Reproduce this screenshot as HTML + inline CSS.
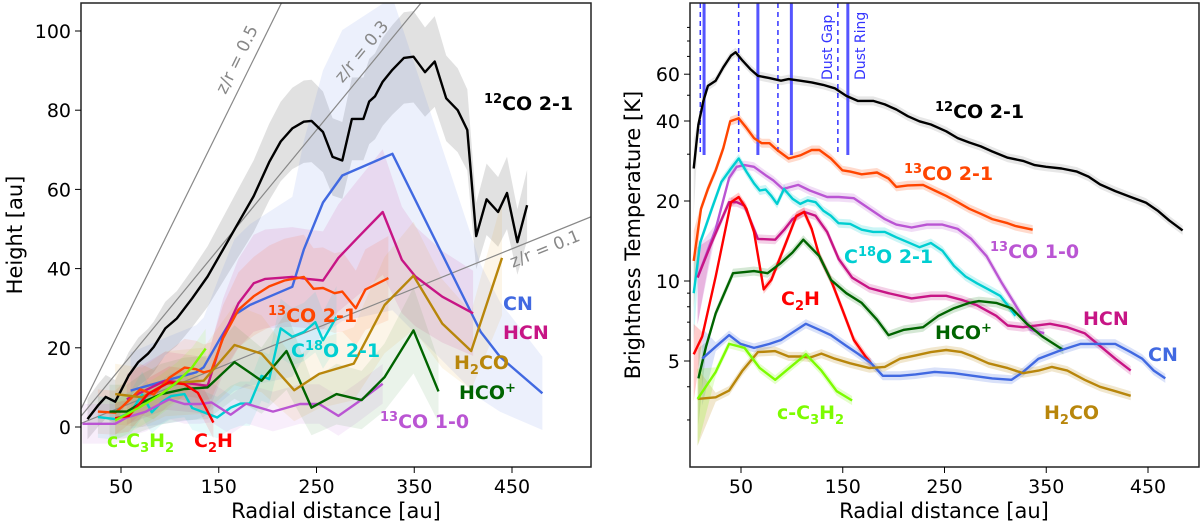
<!DOCTYPE html>
<html><head><meta charset="utf-8"><style>
html,body{margin:0;padding:0;background:#fff;}
svg{display:block;font-family:"DejaVu Sans","Liberation Sans",sans-serif;}
.tk{font-size:19px;fill:#000;}
.at{font-size:21px;fill:#000;}
.lb{font-size:19px;font-weight:bold;}
.sup{font-size:13px;}
</style></head><body>
<svg id="chart" width="1200" height="525" viewBox="0 0 1200 525">
<defs>
<clipPath id="clipL"><rect x="81" y="3" width="510" height="464"/></clipPath>
<clipPath id="clipR"><rect x="690" y="3" width="509" height="464"/></clipPath>
</defs>
<g id="left"></g>
<g id="right"></g>
</svg>
<script>
// ---------- LEFT PANEL DATA (Radial distance [au], Height [au]) ----------
const co12_r=[15.7,26.4,34.3,44.1,50,57.9,67.7,77.6,83.5,95.3,107.1,122.8,138.6,154.3,170.1,185.8,201.6,213.4,225.2,237,244.9,256.7,266.5,276.4,286.2,298,303.9,309.8,317.7,327.6,339.4,349.2,361,370.9,382.7,394.5,404.3,413.4,424,435.8,444.9,455.5,465.4];
const co12_h=[2.0,5.4,7.6,6.4,9.2,13.0,16.4,18.5,20.2,24.9,27.4,32.5,38.0,44.8,51.6,58.3,66.9,72.1,75.4,77.1,77.3,74.5,68.2,67.3,77.8,77.8,82.2,83.5,87.2,90.2,93.2,93.5,89.6,92.3,83.0,80.0,75.0,48.2,57.5,54.3,59.1,46.7,56.0];
const cn_r=[59.8,95.3,126.8,134.6,150.4,166.1,181.9,201.6,225.2,237,256.7,276.4,327.6,418.1,437.8,481.1];
const cn_h=[9.2,11.7,13.8,15.1,21.9,28.3,30.8,32.9,35.4,44.8,56.7,63.5,69.0,24.0,17.7,8.5];
const hcn_r=[55.9,95.3,122.8,138.6,154.3,170.1,185.8,197.6,225.2,240.9,256.7,272.4,292.1,317.7,337.4,351.2,378.7,410.2];
const hcn_h=[7.0,11.7,10.9,10.4,22.8,31.2,36.3,37.4,37.9,37.4,37.0,42.7,47.8,54.3,42.2,38.0,32.9,28.7];
const co13a_r=[26.4,44.1,52,69.7,83.5,99.2,115,126.8,134.6,142.5,154.3,170.1,185.8,201.6,217.3,237,246.9,256.7,268.5,276.4,290.2,300,323.6];
const co13a_h=[3.9,3.6,5.3,9.5,8.2,12.4,15.0,14.6,13.8,14.3,22.4,29.6,33.0,35.5,37.0,37.9,34.9,35.1,33.8,34.2,30.0,34.7,37.6];
const c18o_r=[26.4,44.1,59.8,71.7,81.5,91.3,101.2,115,122.8,134.6,148.4,162.2,172,181.9,193.7,201.6,213.4,225.2,237,248.8,256.7,270.5];
const c18o_h=[2.5,2.0,3.7,8.2,3.7,6.2,7.8,8.3,4.8,3.7,2.4,4.9,5.9,5.9,12.9,12.1,24.9,22.8,24.0,26.5,21.9,27.8];
const co13b_r=[10.6,44.1,55.9,75.6,99.2,115,130.7,142.5,162.2,178,205.5,233.1,252.8,272.4,292.1,317.7];
const co13b_h=[0.8,0.8,2.4,3.9,7.0,5.8,5.8,6.2,3.1,5.9,3.9,5.8,5.8,2.8,6.2,10.9];
const hco_r=[38.2,55.9,71.7,91.3,115,138.6,166.1,193.7,219.3,244.9,270.5,296.1,319.7,349.2,374.8];
const hco_h=[3.9,3.9,6.2,8.3,9.6,10.0,16.4,11.7,19.2,4.9,8.3,6.8,12.6,24.4,9.0];
const h2co_r=[44.1,71.7,95.3,115,134.6,166.1,193.7,227.2,252.8,288.2,319.7,349.2,378.7,408.3,439.8];
const h2co_h=[8.3,7.5,10.9,11.3,11.7,20.7,18.5,9.3,13.4,16.0,30.8,38.2,26.1,19.2,42.7];
const c2h_r=[44.1,57.9,77.6,99.2,115,128.7,144.5];
const c2h_h=[2.2,2.8,8.3,11.3,10.8,8.6,1.1];
const c3h2_r=[44.1,67.7,91.3,107.1,122.8,136.6];
const c3h2_h=[1.7,4.8,8.3,11.3,15.1,19.8];
const xTicksL=[50,150,250,350,450];
const yTicksL=[0,20,40,60,80,100];
const zrRatios=[0.5,0.3,0.1];

// ---------- RIGHT PANEL DATA (Radial distance [au], Brightness Temperature [K]) ----------
const t12_r=[3.5,8.1,13.0,17.5,25.1,32.6,40.2,44.7,51.5,59.1,66.6,78,89.3,96.8,108.2,119.5,130.8,142.2,153.5,164.8,179.9,191.3,202.6,213.9,225.3,236.6,251.7,263,274.4,285.7,297,312.1,327.2,338.6,349.9,365,380.1,391.5,402.8,417.9,433,448.1,459.4,470.8,484];
const t12_T=[26.5,38.8,47.6,54.2,56.7,63.7,70.5,72.6,67.5,62.7,59.2,58.0,56.7,57.5,56.7,55.9,54.7,53.1,49.7,47.6,47.6,46.2,44.2,41.7,39.9,38.8,36.6,34.5,33.2,32.1,30.7,29.1,28.3,27.3,26.9,26.5,25.8,24.7,23.1,21.8,20.7,19.7,18.4,16.9,15.5];
const t13a_r=[3.5,10.7,17.5,25.1,32.6,39.4,47.7,55.3,62.8,70.4,78,85.5,96.8,108.2,119.5,127.1,138.4,149.7,157.3,168.6,183.7,195,202.6,213.9,229,240.4,251.7,263,274.4,285.7,297,312.1,319.7,336.7];
const t13a_T=[11.9,18.7,22.2,26.1,31.6,39.9,41.0,37.7,34.5,33.0,33.0,31.1,28.9,29.7,31.1,31.1,28.9,26.1,25.8,25.2,25.6,24.3,22.6,22.9,23.0,21.9,20.9,19.8,18.7,17.9,17.1,16.5,16.1,15.6];
const t13b_r=[7.3,25.1,38.3,45.8,53.4,62.8,74.2,81.7,91.2,106.3,117.6,134.6,146,161,176.2,191.3,202.6,217.7,232.8,247.9,263,276.2,291.4,306.5,321.6,334.8,348];
const t13b_T=[10.3,15.7,24.4,26.9,27.3,26.9,25.0,23.9,22.2,23.0,21.9,20.7,20.7,20.5,18.7,17.1,16.3,15.9,16.3,16.3,15.7,14.4,12.4,9.8,7.9,6.55,6.36];
const tc18_r=[3.5,10,21.3,30.7,40.2,47.7,55.3,62.8,68.5,74.2,79.8,85.5,92.3,100.6,108.2,115.7,123.3,130.8,138.4,145.9,157.3,168.6,179.9,191.3,202.6,213.9,225.3,236.6,247.9,259.3,270.6,281.9,293.2,304.6,312.1,319.7];
const tc18_T=[9.0,14.0,18.7,23.6,26.5,28.9,25.8,23.3,21.9,22.1,20.9,19.5,22.2,20.4,19.5,20.1,19.8,18.4,17.6,16.5,16.4,15.6,15.3,15.3,14.6,14.0,13.4,13.9,13.0,11.4,10.4,9.8,9.3,8.8,8.1,7.4];
const thcn_r=[7.3,21.3,38.3,45.8,53.4,66.6,83.6,93.1,100.6,112,123.3,134.6,146,159.2,176.2,195,217.7,236.6,251.7,266.8,281.9,300.8,312.1,327.2,353.7,370.7,387.7,402.8,417.9,433];
const thcn_T=[10.3,14.0,19.8,19.8,19.2,14.4,14.3,15.7,17.1,18.2,17.6,15.3,12.1,10.3,9.4,9.0,8.6,8.8,8.8,8.5,8.1,7.4,6.8,6.7,6.9,6.7,6.36,5.7,5.1,4.6];
const tc2h_r=[3.5,11.9,25.1,40.2,47.7,55.3,62.8,72.3,79.8,93.1,104.4,112,119.5,127.1,138.4,149.7,161,172.4,178];
const tc2h_T=[5.3,6.18,10.4,19.8,20.7,18.7,15.3,9.3,10.1,13.6,17.6,18.2,15.7,12.4,10.1,7.8,6.0,5.2,4.9];
const thco_r=[8.1,15.6,25.1,42.1,53.4,62.8,76.1,89.3,100.6,111.2,127.1,138.4,153.5,168.6,183.7,195,210.2,229,244.1,259.3,274.4,283.8,300.8,315.9,331,346.1,366.9];
const thco_T=[4.3,5.66,7.56,10.7,10.8,10.9,10.7,11.7,12.8,14.3,12.4,10.1,9.0,8.27,7.15,6.25,6.55,6.7,7.4,7.9,8.27,8.4,8.27,7.9,6.9,6.18,5.5];
const tcn_r=[11.9,25.1,38.3,49.6,62.8,78,89.3,100.6,113.8,127.1,138.4,153.5,164.8,178,189.4,206.4,221.5,240.4,259.3,278.1,297,315.9,327.2,342.4,365,383.9,406.6,417.9,433,444.3,455.7,467];
const tcn_T=[5.1,5.66,6.26,5.8,5.6,5.8,6.0,6.4,6.9,6.55,6.26,5.7,5.33,4.9,4.4,4.4,4.45,4.55,4.5,4.4,4.3,4.25,4.55,5.1,5.5,5.8,5.8,5.8,5.4,5.1,4.6,4.3];
const th2co_r=[7.3,25.1,38.3,51.5,66.6,83.6,96.8,108.2,117.6,129,142.2,157.3,176.2,191.3,206.4,221.5,236.6,251.7,266.8,278.1,293.2,312.1,327.2,342.4,355.6,370.7,387.7,402.8,417.9,433];
const th2co_T=[3.6,3.65,3.87,4.6,5.4,5.45,5.2,5.2,5.15,5.33,5.1,4.9,4.7,4.75,5.1,5.25,5.4,5.5,5.4,5.2,4.9,4.7,4.5,4.6,4.75,4.6,4.25,4.0,3.85,3.7];
const tc3h2_r=[7.3,25.1,38.3,53.4,68.5,83.6,98.7,113.8,129,144.1,159.2];
const tc3h2_T=[3.6,4.55,5.8,5.6,4.7,4.25,4.75,5.3,4.6,3.85,3.55];
const dustGaps=[10,47.7,86.3,145.2];
const dustRings=[13.7,66.6,99.5,155];
const xTicksR=[50,150,250,350,450];
const yTicksR=[5,10,20,40,60];
const yMinorR=[3,4,6,7,8,9,30,50,70,80,90];

const NS='http://www.w3.org/2000/svg';
function mk(tag,attrs,parent){const e=document.createElementNS(NS,tag);for(const k in attrs)e.setAttribute(k,attrs[k]);parent.appendChild(e);return e;}
const L=document.getElementById('left'), R=document.getElementById('right');
const xL=r=>121+(r-50)*0.9775, yL=h=>427-h*3.96;
const xR=r=>741+(r-50)*1.0175, yR=T=>281-80*Math.log2(T/10);

function linePath(xs,ys,fx,fy){return xs.map((v,i)=>(i?'L':'M')+fx(v).toFixed(1)+','+fy(ys[i]).toFixed(1)).join(' ');}
function bandPath(xs,lo,hi,fx,fy){let d='';xs.forEach((v,i)=>{d+=(i?'L':'M')+fx(v).toFixed(1)+','+fy(hi[i]).toFixed(1);});for(let i=xs.length-1;i>=0;i--)d+='L'+fx(xs[i]).toFixed(1)+','+fy(lo[i]).toFixed(1);return d+'Z';}

const gL=mk('g',{'clip-path':'url(#clipL)'},L);
// [name, r, h, lineColor, errConst, errFrac, bandColor]
const leftSeries=[
 ['co12',co12_r,co12_h,'#000000',5,0.07,'#888'],['cn',cn_r,cn_h,'#4169e1',5,0.5,'#4169e1'],['hcn',hcn_r,hcn_h,'#c71585',5,0.2,'#c71585'],
 ['co13-2-1',co13a_r,co13a_h,'#ff4500',5,0.15,'#ff4500'],['c18o',c18o_r,c18o_h,'#00ced1',5,0.1,'#00ced1'],['co13-1-0',co13b_r,co13b_h,'#ba55d3',5,0,'#ba55d3'],
 ['hcoplus',hco_r,hco_h,'#006400',6,0.2,'#2e8b2e'],['h2co',h2co_r,h2co_h,'#b8860b',6,0.2,'#e0a020'],['c2h',c2h_r,c2h_h,'#ff0000',4,0,'#ff0000'],['c-c3h2',c3h2_r,c3h2_h,'#7cfc00',5,0,'#7cfc00']];
leftSeries.forEach(s=>{
 const lo=s[2].map(v=>v-s[4]-v*s[5]), hi=s[2].map(v=>v+s[4]+v*s[5]);
 const b=mk('path',{d:bandPath(s[1],lo,hi,xL,yL),fill:s[6],'fill-opacity':s[0]==='co12'?0.25:0.1,stroke:'none'},gL);
 
 
});
zrRatios.forEach(z=>{
 const l=mk('line',{x1:xL(0),y1:yL(0),x2:xL(600),y2:yL(600*z),stroke:'#888',"stroke-width":1.2},gL);
 
 
});
leftSeries.forEach(s=>{
 const p=mk('path',{d:linePath(s[1],s[2],xL,yL),fill:'none',stroke:s[3],'stroke-width':2.4,'stroke-linejoin':'round'},gL);
 
 
});
mk('rect',{x:81,y:3,width:510,height:464,fill:'none',stroke:'#222','stroke-width':1.5},L);
xTicksL.forEach(v=>{mk('line',{x1:xL(v),x2:xL(v),y1:467,y2:473,stroke:'#000'},L);const t=mk('text',{x:xL(v),y:493,'text-anchor':'middle',class:'tk'},L);t.textContent=v;});
yTicksL.forEach(v=>{mk('line',{x1:75,x2:81,y1:yL(v),y2:yL(v),stroke:'#000'},L);const t=mk('text',{x:71,y:yL(v)+7,'text-anchor':'end',class:'tk'},L);t.textContent=v;});

const gR=mk('g',{'clip-path':'url(#clipR)'},R);
const rightSeries=[
 ['co12',t12_r,t12_T,'#000000','#888'],['co13-2-1',t13a_r,t13a_T,'#ff4500','#ff4500'],['co13-1-0',t13b_r,t13b_T,'#ba55d3','#ba55d3'],
 ['c18o',tc18_r,tc18_T,'#00ced1','#00ced1'],['hcn',thcn_r,thcn_T,'#c71585','#c71585'],['c2h',tc2h_r,tc2h_T,'#ff0000','#ff0000'],
 ['hcoplus',thco_r,thco_T,'#006400','#2e8b2e'],['cn',tcn_r,tcn_T,'#4169e1','#4169e1'],['h2co',th2co_r,th2co_T,'#b8860b','#b8860b'],['c-c3h2',tc3h2_r,tc3h2_T,'#7cfc00','#7cfc00']];
rightSeries.forEach(s=>{
 const lo=s[2].map((v,i)=>v/(i===0?1.5:1.04)), hi=s[2].map((v,i)=>v*(i===0?1.3:1.04));
 const b=mk('path',{d:bandPath(s[1],lo,hi,xR,yR),fill:s[4],'fill-opacity':0.2,stroke:'none'},gR);
 
 
});
dustGaps.forEach(r=>{const l=mk('line',{x1:xR(r),x2:xR(r),y1:3,y2:155,stroke:'#3333ff','stroke-width':1.5,'stroke-dasharray':'5,4'},gR);});
dustRings.forEach(r=>{const l=mk('line',{x1:xR(r),x2:xR(r),y1:3,y2:155,stroke:'#5555ff','stroke-width':3},gR);});
rightSeries.forEach(s=>{
 const p=mk('path',{d:linePath(s[1],s[2],xR,yR),fill:'none',stroke:s[3],'stroke-width':2.4,'stroke-linejoin':'round'},gR);
 
 
});
mk('rect',{x:690,y:3,width:509,height:464,fill:'none',stroke:'#222','stroke-width':1.5},R);
xTicksR.forEach(v=>{mk('line',{x1:xR(v),x2:xR(v),y1:467,y2:473,stroke:'#000'},R);const t=mk('text',{x:xR(v),y:493,'text-anchor':'middle',class:'tk'},R);t.textContent=v;});
yTicksR.forEach(v=>{mk('line',{x1:684,x2:690,y1:yR(v),y2:yR(v),stroke:'#000'},R);const t=mk('text',{x:680,y:yR(v)+7,'text-anchor':'end',class:'tk'},R);t.textContent=v;});
yMinorR.forEach(v=>{mk('line',{x1:687,x2:690,y1:yR(v),y2:yR(v),stroke:'#000'},R);});
</script>
<div style="position:absolute;left:0;top:0;width:1200px;height:525px;pointer-events:none">
<svg width="1200" height="525" style="position:absolute;left:0;top:0">
 <text x="242" y="62" transform="rotate(-63.7 242 62)" text-anchor="middle" font-size="17" fill="#888">z/r = 0.5</text>
 <text x="366" y="55" transform="rotate(-50.5 366 55)" text-anchor="middle" font-size="17" fill="#888">z/r = 0.3</text>
 <text x="547" y="254" transform="rotate(-22 547 254)" text-anchor="middle" font-size="17" fill="#888">z/r = 0.1</text>
 <text x="484" y="110" class="lb" fill="#000"><tspan class="sup" dy="-7">12</tspan><tspan dy="7">CO 2-1</tspan></text>
 <text x="503" y="310" class="lb" fill="#4169e1">CN</text>
 <text x="503" y="339" class="lb" fill="#c71585">HCN</text>
 <text x="268" y="322" class="lb" fill="#ff4500"><tspan class="sup" dy="-7">13</tspan><tspan dy="7">CO 2-1</tspan></text>
 <text x="291" y="357" class="lb" fill="#00ced1">C<tspan class="sup" dy="-7">18</tspan><tspan dy="7">O 2-1</tspan></text>
 <text x="454" y="369" class="lb" fill="#b8860b">H<tspan class="sup" dy="5">2</tspan><tspan dy="-5">CO</tspan></text>
 <text x="459" y="399" class="lb" fill="#006400">HCO<tspan class="sup" dy="-7">+</tspan></text>
 <text x="380" y="428" class="lb" fill="#ba55d3"><tspan class="sup" dy="-7">13</tspan><tspan dy="7">CO 1-0</tspan></text>
 <text x="107" y="447" class="lb" fill="#7cfc00">c-C<tspan class="sup" dy="5">3</tspan><tspan dy="-5">H</tspan><tspan class="sup" dy="5">2</tspan></text>
 <text x="194" y="447" class="lb" fill="#ff0000">C<tspan class="sup" dy="5">2</tspan><tspan dy="-5">H</tspan></text>
 <text x="22" y="235" transform="rotate(-90 22 235)" text-anchor="middle" class="at">Height [au]</text>
 <text x="336" y="518" text-anchor="middle" class="at">Radial distance [au]</text>
 <text x="832" y="80" transform="rotate(-90 832 80)" font-size="14" fill="#3333ff">Dust Gap</text>
 <text x="865" y="80" transform="rotate(-90 865 80)" font-size="14" fill="#3333ff">Dust Ring</text>
 <text x="935" y="118" class="lb" fill="#000"><tspan class="sup" dy="-7">12</tspan><tspan dy="7">CO 2-1</tspan></text>
 <text x="904" y="180" class="lb" fill="#ff4500"><tspan class="sup" dy="-7">13</tspan><tspan dy="7">CO 2-1</tspan></text>
 <text x="990" y="258" class="lb" fill="#ba55d3"><tspan class="sup" dy="-7">13</tspan><tspan dy="7">CO 1-0</tspan></text>
 <text x="844" y="263" class="lb" fill="#00ced1">C<tspan class="sup" dy="-7">18</tspan><tspan dy="7">O 2-1</tspan></text>
 <text x="781" y="305" class="lb" fill="#ff0000">C<tspan class="sup" dy="5">2</tspan><tspan dy="-5">H</tspan></text>
 <text x="935" y="339" class="lb" fill="#006400">HCO<tspan class="sup" dy="-7">+</tspan></text>
 <text x="1083" y="325" class="lb" fill="#c71585">HCN</text>
 <text x="1148" y="361" class="lb" fill="#4169e1">CN</text>
 <text x="1044" y="419" class="lb" fill="#b8860b">H<tspan class="sup" dy="5">2</tspan><tspan dy="-5">CO</tspan></text>
 <text x="777" y="419" class="lb" fill="#7cfc00">c-C<tspan class="sup" dy="5">3</tspan><tspan dy="-5">H</tspan><tspan class="sup" dy="5">2</tspan></text>
 <text x="640" y="235" transform="rotate(-90 640 235)" text-anchor="middle" class="at">Brightness Temperature [K]</text>
 <text x="944" y="518" text-anchor="middle" class="at">Radial distance [au]</text>
</svg>
</div>
</body></html>
